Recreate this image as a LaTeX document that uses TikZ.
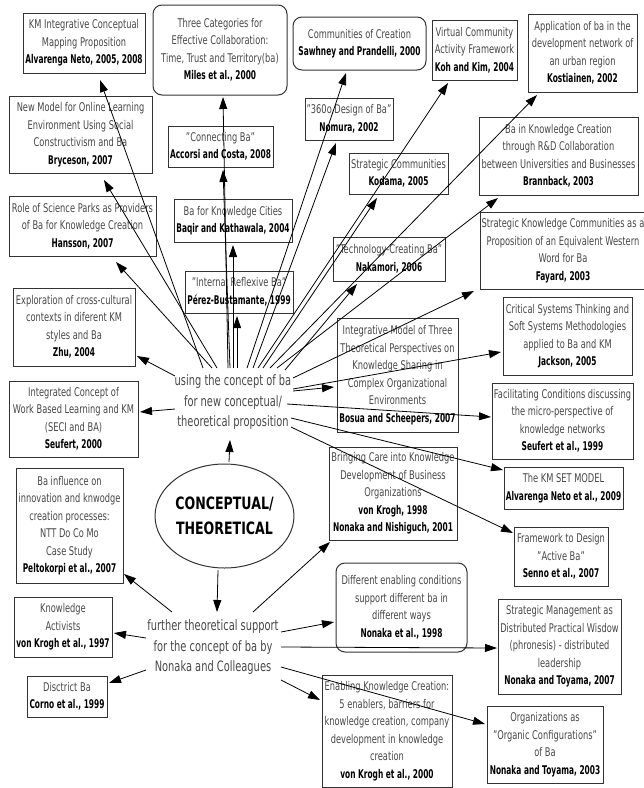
\documentclass[tikz,border=0pt]{standalone}
\usepackage{fontspec}
\setmainfont{DejaVu Sans}[FakeStretch=0.69]
\newfontfamily\authfont{DejaVu Sans}[FakeStretch=0.62]
\newfontfamily\titlefont{DejaVu Sans}[FakeStretch=0.74]
\usetikzlibrary{arrows.meta,shapes.geometric}
\definecolor{txt}{HTML}{474747}
\definecolor{edge}{HTML}{333333}
\newcommand\au[1]{{\color{black}\authfont\bfseries #1}}

\begin{document}
\begin{tikzpicture}[x=1pt,y=-1pt,
  box/.style={draw=edge, line width=1pt, align=center, inner sep=1pt, text=txt,
    font=\fontsize{12}{17.5}\selectfont},
  rbox/.style={box, rounded corners=9pt},
  sz/.style 2 args={minimum width=#1pt, minimum height=#2pt},
  hub/.style={align=center, text=txt, inner sep=0pt,
    font=\fontsize{14.3}{20.5}\selectfont},
  arr/.style={-{Triangle[length=12pt,width=8pt]}, line width=0.8pt, black},
]
\useasboundingbox (0,0) rectangle (644,788);

% ---- boxes above the first hub ----
\node[box, sz={122}{60}] (kmmap) at (84,43)
  {KM Integrative Conceptual\\Mapping Proposition\\\au{Alvarenga Neto, 2005, 2008}};
\node[rbox, sz={134}{90}] (miles) at (220,50)
  {Three Categories for\\Effective Collaboration:\\Time, Trust and Territory(ba)\\\au{Miles et al., 2000}};
\node[rbox, sz={133}{53}] (sawhney) at (359.5,43.5)
  {Communities of Creation\\\au{Sawhney and Prandelli, 2000}};
\node[box, sz={143}{77}] (bryceson) at (80.5,134.5)
  {New Model for Online Learning\\Environment Using Social\\Constructivism and Ba\\\au{Bryceson, 2007}};
\node[box, sz={105}{41}] (accorsi) at (220.5,146.5)
  {"Connecting Ba"\\\au{Accorsi and Costa, 2008}};
\node[box, sz={88}{42}] (nomura) at (349,119)
  {"360o Design of Ba"\\\au{Nomura, 2002}};
\node[box, sz={85}{60}] (koh) at (474.5,50)
  {Virtual Community\\Activity Framework\\\au{Koh and Kim, 2004}};
\node[box, sz={109}{78}] (kost) at (582.5,53)
  {Application of ba in the\\development network of\\an urban region\\\au{Kostiainen, 2002}};
\node[box, sz={99}{41}] (kodama) at (398.5,173.5)
  {Strategic Communities\\\au{Kodama, 2005}};
\node[box, sz={159}{78}] (brann) at (558.5,156)
  {Ba in Knowledge Creation\\through R\&D Collaboration\\between Universities and Businesses\\\au{Brannback, 2003}};
\node[box, sz={147}{60}] (hansson) at (82.5,226)
  {Role of Science Parks as Providers\\of Ba for Knowledge Creation\\\au{Hansson, 2007}};
\node[box, sz={118}{43}] (baqir) at (233,220.5)
  {Ba for Knowledge Cities\\\au{Baqir and Kathawala, 2004}};
\node[box, sz={108}{42}] (perez) at (239,292)
  {"Internal Reflexive Ba"\\\au{Pérez-Bustamante, 1999}};
\node[box, sz={122}{78}] (zhu) at (74,327)
  {Exploration of cross-cultural\\contexts in diferent KM\\styles and Ba\\\au{Zhu, 2004}};
\node[box, sz={112}{44}] (nakamori) at (389,259)
  {"Technology-Creating Ba"\\\au{Nakamori, 2006}};
\node[box, sz={161}{77}] (fayard) at (563,250.5)
  {Strategic Knowledge Communities as a\\Proposition of an Equivalent Western\\Word for Ba\\\au{Fayard, 2003}};
\node[box, sz={129}{78}] (jackson) at (567.5,336)
  {Critical Systems Thinking and\\Soft Systems Methodologies\\applied to Ba and KM\\\au{Jackson, 2005}};
\node[box, sz={121}{114}] (bosua) at (397.5,375)
  {Integrative Model of Three\\Theoretical Perspectives on\\Knowledge Sharing in\\Complex Organizational\\Environments\\\au{Bosua and Scheepers, 2007}};
\node[box, sz={141}{76}] (seufert99) at (562.5,421)
  {Facilitating Conditions discussing\\the micro-perspective of\\knowledge networks\\\au{Seufert et al., 1999}};
\node[box, sz={129}{76}] (seufert00) at (73.5,419)
  {Integrated Concept of\\Work Based Learning and KM\\(SECI and BA)\\\au{Seufert, 2000}};
\node[box, sz={107}{115}] (pelto) at (69.5,525.5)
  {Ba influence on\\innovation and knwodge\\creation processes:\\NTT Do Co Mo\\Case Study\\\au{Peltokorpi et al., 2007}};
\node[box, sz={128}{93}] (care) at (393,493.5)
  {Bringing Care into Knowledge\\Development of Business\\Organizations\\\au{von Krogh, 1998}\\\au{Nonaka and Nishiguch, 2001}};
\node[box, sz={119}{42}] (kmset) at (563.5,488)
  {The KM SET MODEL\\\au{Alvarenga Neto et al., 2009}};
\node[box, sz={94}{59}] (senno) at (561,556.5)
  {Framework to Design\\"Active Ba"\\\au{Senno et al., 2007}};

% ---- boxes around the second hub ----
\node[rbox, sz={131}{89}] (enabling) at (401.5,607.5)
  {Different enabling conditions\\support different ba in\\different ways\\\au{Nonaka et al., 1998}};
\node[box, sz={123}{95}] (toyama07) at (559.5,646.5)
  {Strategic Management as\\Distributed Practical Wisdow\\(phronesis) - distributed\\leadership\\\au{Nonaka and Toyama, 2007}};
\node[box, sz={130}{112}] (krogh00) at (387,731)
  {Enabling Knowledge Creation:\\5 enablers, barriers for\\knowledge creation, company\\development in knowledge\\creation\\\au{von Krogh et al., 2000}};
\node[box, sz={116}{77}] (toyama03) at (545,744.5)
  {Organizations as\\"Organic Configurations"\\of Ba\\\au{Nonaka and Toyama, 2003}};
\node[box, sz={98}{60}] (activists) at (63,627)
  {Knowledge\\Activists\\\au{von Krogh et al., 1997}};
\node[box, sz={80}{41}] (corno) at (67,696.5)
  {Disctrict Ba\\\au{Corno et al., 1999}};

% ---- centre: category ellipse and the two hubs ----
\node[draw=edge, line width=1pt, ellipse, minimum width=117pt, minimum height=104pt,
  inner sep=0pt, align=center, font=\titlefont\bfseries\fontsize{17}{25}\selectfont]
  (cat) at (224.5,516) {CONCEPTUAL/\\THEORETICAL};
\node[hub] (hubA) at (233,402.5)
  {using the concept of ba\\for new conceptual/\\theoretical proposition};
\node[hub] (hubB) at (213,647.5)
  {further theoretical support\\for the concept of ba by\\Nonaka and Colleagues};

% ---- connector end points on the first hub ----
\coordinate (a1) at (203,368);  \coordinate (a2) at (217,368);
\coordinate (a3) at (212,368);  \coordinate (a4) at (175,376);
\coordinate (a5) at (175,409);  \coordinate (a6) at (228,368);
\coordinate (a7) at (230,368);  \coordinate (a8) at (233,368);
\coordinate (a9) at (237,368);  \coordinate (a10) at (247,368);
\coordinate (a11) at (253,368); \coordinate (a12) at (258,368);
\coordinate (a13) at (263,368); \coordinate (a14) at (270,368);
\coordinate (a15) at (277,368); \coordinate (a16) at (285,370);
\coordinate (a17) at (293,378); \coordinate (a18) at (293,391);
\coordinate (a19) at (293,389); \coordinate (a20) at (287,404);
\coordinate (a21) at (291,418); \coordinate (a22) at (291,427);

% ---- arrow tips near the target boxes ----
\coordinate (kmmap-in) at (100,80);     \coordinate (bryceson-in) at (104,180);
\coordinate (hansson-in) at (116,262);  \coordinate (zhu-in) at (137,356);
\coordinate (seufert00-in) at (140,412);\coordinate (miles-in) at (223,97);
\coordinate (accorsi-in) at (223,170);  \coordinate (baqir-in) at (233,245);
\coordinate (perez-in) at (237,316);    \coordinate (sawhney-in) at (346,73);
\coordinate (nomura-in) at (336,143);   \coordinate (koh-in) at (448,83);
\coordinate (kodama-in) at (377,198);   \coordinate (kost-in) at (537,95);
\coordinate (brann-in) at (498,198);    \coordinate (nakamori-in) at (357,284);
\coordinate (fayard-in) at (474,291);   \coordinate (jackson-in) at (501,352);
\coordinate (bosua-in) at (334,387);    \coordinate (seufert99-in) at (491,417);
\coordinate (kmset-in) at (503,470);    \coordinate (senno-in) at (513,533);

% ---- first hub: new conceptual propositions ----
\draw[arr] (a1) -- (kmmap-in);
\draw[arr] (a2) -- (bryceson-in);
\draw[arr] (a3) -- (hansson-in);
\draw[arr] (a4) -- (zhu-in);
\draw[arr] (a5) -- (seufert00-in);
\draw[arr] (a6) -- (miles-in);
\draw[arr] (a7) -- (accorsi-in);
\draw[arr] (a8) -- (baqir-in);
\draw[arr] (a9) -- (perez-in);
\draw[arr] (a10) -- (sawhney-in);
\draw[arr] (a11) -- (nomura-in);
\draw[arr] (a12) -- (koh-in);
\draw[arr] (a13) -- (kodama-in);
\draw[arr] (a14) -- (kost-in);
\draw[arr] (a15) -- (brann-in);
\draw[arr] (a16) -- (nakamori-in);
\draw[arr] (a17) -- (fayard-in);
\draw[arr] (a18) -- (bosua-in);
\draw[arr] (a19) -- (jackson-in);
\draw[arr] (a20) -- (seufert99-in);
\draw[arr] (a21) -- (kmset-in);
\draw[arr] (a22) -- (senno-in);

% ---- ellipse to both hubs ----
\coordinate (cat-up) at (229,462);   \coordinate (hubA-in) at (230,440);
\coordinate (cat-down) at (218,570); \coordinate (hubB-in) at (217,612);
\draw[arr] (cat-up) -- (hubA-in);
\draw[arr] (cat-down) -- (hubB-in);

% ---- second hub: Nonaka and colleagues ----
\coordinate (b1) at (172,612); \coordinate (b2) at (146,638);
\coordinate (b3) at (146,670); \coordinate (b4) at (253,612);
\coordinate (b5) at (281,632); \coordinate (b6) at (281,647);
\coordinate (b7) at (281,667); \coordinate (b8) at (281,680);
\coordinate (pelto-in) at (124,574);     \coordinate (activists-in) at (114,633);
\coordinate (corno-in) at (109,683);     \coordinate (care-in) at (330,542);
\coordinate (enabling-in) at (334,622);  \coordinate (toyama07-in) at (497,648);
\coordinate (toyama03-in) at (485,724);  \coordinate (krogh00-in) at (320,700);
\draw[arr] (b1) -- (pelto-in);
\draw[arr] (b2) -- (activists-in);
\draw[arr] (b3) -- (corno-in);
\draw[arr] (b4) -- (care-in);
\draw[arr] (b5) -- (enabling-in);
\draw[arr] (b6) -- (toyama07-in);
\draw[arr] (b7) -- (toyama03-in);
\draw[arr] (b8) -- (krogh00-in);
\end{tikzpicture}
\end{document}
